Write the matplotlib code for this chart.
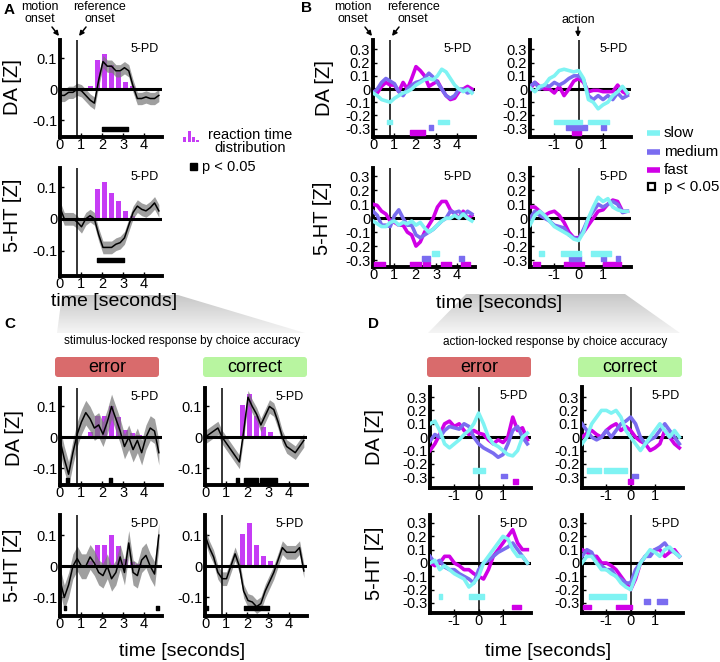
import numpy as np
import matplotlib.pyplot as plt
from matplotlib.patches import Polygon, Rectangle, FancyBboxPatch

plt.rcParams['font.family'] = ['Liberation Sans', 'DejaVu Sans']
plt.rcParams['axes.unicode_minus'] = False

W, H = 720, 662

# ---------------- data ----------------
t_stim = np.linspace(0, 4.7, 24)
t_act = np.linspace(-2.0, 2.0, 21)
rt_bins = [1.45, 1.78, 2.11, 2.44, 2.77, 3.1, 3.43, 3.76]

# panel A
a_rt = [0.01, 0.095, 0.115, 0.08, 0.055, 0.025, 0.01, 0.0]
a_da = [-0.02, -0.02, -0.01, -0.01, 0.0, -0.005, -0.02, -0.035, -0.045, 0.03, 0.09, 0.075,
        0.075, 0.06, 0.06, 0.07, 0.06, 0.01, -0.03, -0.03, -0.025, -0.03, -0.03, -0.02]
a_ht = [0.035, 0.0, 0.0, 0.0, -0.01, -0.025, 0.0, 0.01, 0.0, -0.05, -0.09, -0.09,
        -0.09, -0.08, -0.075, -0.06, -0.02, 0.02, 0.04, 0.03, 0.025, 0.035, 0.05, 0.025]
a_da_sem = 0.02
a_ht_sem = 0.02
a_da_sig = [(2.0, 3.25)]
a_ht_sig = [(1.75, 3.05)]

# panel B, stimulus locked
b_da_slow = [-0.03, -0.05, -0.08, -0.09, -0.1, -0.07, -0.05, -0.03, -0.02, 0.0, 0.03, 0.05,
             0.07, 0.08, 0.07, 0.1, 0.15, 0.13, 0.08, 0.03, 0.0, -0.02, 0.0, -0.03]
b_da_med = [-0.03, 0.0, 0.05, 0.08, 0.06, 0.04, -0.02, -0.05, 0.0, 0.03, 0.05, 0.06,
            0.08, 0.12, 0.09, 0.05, 0.0, -0.05, -0.07, -0.05, 0.0, 0.0, -0.03, -0.02]
b_da_fast = [-0.02, -0.03, 0.02, 0.05, 0.03, 0.03, -0.02, 0.05, 0.0, 0.08, 0.17, 0.14,
             0.1, 0.02, 0.04, 0.06, 0.0, -0.05, -0.08, -0.07, -0.02, 0.0, 0.02, 0.0]
b_ht_slow = [-0.02, -0.04, -0.06, -0.06, -0.03, -0.02, -0.05, -0.03, -0.04, -0.02, -0.05, -0.03,
             -0.07, -0.1, -0.08, -0.05, -0.02, 0.0, 0.0, 0.02, 0.0, 0.03, 0.0, -0.02]
b_ht_med = [0.05, 0.02, -0.05, -0.05, -0.06, 0.02, 0.06, 0.0, -0.05, -0.05, -0.12, -0.14,
            -0.12, -0.1, -0.08, -0.05, -0.02, 0.0, 0.05, 0.04, 0.05, 0.02, 0.05, 0.03]
b_ht_fast = [0.1, 0.09, 0.05, 0.03, -0.02, -0.03, -0.05, -0.05, -0.1, -0.12, -0.2, -0.17,
             -0.1, -0.05, 0.0, 0.08, 0.12, 0.12, 0.06, 0.03, 0.0, 0.05, 0.0, 0.02]
b_da_sig = {'slow': [(0.65, 0.89), (3.11, 3.59)], 'med': [(2.68, 2.87)], 'fast': [(1.76, 2.48)]}
b_ht_sig = {'slow': [(2.8, 3.15)], 'med': [(2.32, 2.71), (4.1, 4.35)],
            'fast': [(0.05, 0.55), (1.76, 2.3), (2.4, 2.7), (3.22, 3.7), (4.2, 4.6)]}

# panel B, action locked
ba_da_slow = [0.01, -0.02, 0.02, 0.03, 0.08, 0.1, 0.14, 0.15, 0.14, 0.13, 0.14,
              0.08, -0.08, -0.1, -0.15, -0.12, -0.1, -0.05, -0.02, 0.02, -0.03]
ba_da_med = [0.02, 0.05, 0.0, 0.03, 0.02, 0.05, 0.03, 0.05, 0.08, 0.1, 0.1,
             0.07, -0.05, -0.08, -0.05, -0.08, -0.05, -0.08, -0.03, -0.07, -0.05]
ba_da_fast = [0.0, 0.05, 0.02, 0.0, 0.0, -0.03, 0.02, -0.05, 0.0, 0.06, 0.08,
              0.05, -0.02, -0.01, -0.01, -0.02, -0.02, -0.02, 0.03, -0.02, -0.04]
ba_ht_slow = [-0.05, 0.02, 0.05, 0.02, -0.02, -0.06, -0.08, -0.1, -0.12, -0.15, -0.16,
              -0.1, 0.0, 0.08, 0.15, 0.12, 0.14, 0.08, 0.06, 0.05, 0.05]
ba_ht_med = [0.0, 0.05, 0.02, 0.0, -0.02, -0.05, -0.06, -0.07, -0.12, -0.14, -0.15,
             -0.08, 0.0, 0.05, 0.1, 0.08, 0.1, 0.12, 0.1, 0.04, 0.05]
ba_ht_fast = [0.08, 0.08, 0.05, 0.02, 0.04, 0.05, 0.02, -0.03, -0.1, -0.14, -0.14,
              -0.1, -0.05, 0.0, 0.05, 0.06, 0.1, 0.13, 0.12, 0.05, 0.05]
ba_da_sig = {'slow': [(-1.0, 0.12), (0.4, 1.26)], 'med': [(-0.52, 0.34), (0.92, 1.12)],
             'fast': [(-0.29, 0.09)]}
ba_ht_sig = {'slow': [(-1.62, -1.42), (-0.73, 0.09), (0.5, 1.33)],
             'med': [(-0.38, 0.09), (0.92, 1.12), (1.53, 1.71)],
             'fast': [(-1.89, -1.58), (-0.59, 0.23), (0.99, 1.74)]}

# panel C
c_err_rt = [0.016, 0.07, 0.068, 0.1, 0.066, 0.022, 0.014, 0.008]
c_cor_rt = [0.005, 0.105, 0.14, 0.07, 0.033, 0.017, 0.003, 0.0]
c_err_da = [-0.01, -0.07, -0.12, -0.05, 0.01, 0.05, 0.08, 0.06, 0.03, 0.04, 0.01, 0.05,
            0.1, 0.06, 0.02, -0.03, 0.0, -0.04, -0.01, -0.05, 0.0, 0.03, 0.02, -0.05]
c_err_ht = [-0.045, -0.1, -0.06, 0.0, 0.025, 0.0, 0.0, 0.03, 0.01, -0.02, -0.03, 0.0,
            -0.04, -0.02, 0.03, -0.02, 0.075, -0.02, -0.03, 0.02, 0.035, 0.0, -0.025, 0.1]
c_cor_da = [0.0, 0.01, 0.02, 0.03, 0.0, -0.02, -0.04, -0.06, -0.08, 0.02, 0.13, 0.1,
            0.075, 0.04, 0.07, 0.1, 0.09, 0.05, 0.0, -0.03, -0.04, -0.05, -0.03, -0.01]
c_cor_ht = [0.1, 0.06, 0.03, -0.02, -0.04, -0.04, 0.0, 0.04, 0.0, -0.08, -0.11, -0.115,
            -0.13, -0.12, -0.08, -0.05, -0.02, 0.02, 0.06, 0.045, 0.045, 0.045, 0.06, -0.015]
c_err_sem = 0.04
c_cor_sem = 0.022
c_err_da_sig = [(0.3, 0.42), (2.33, 2.45)]
c_err_ht_sig = [(0.18, 0.3), (4.55, 4.7)]
c_cor_da_sig = [(1.48, 1.62), (1.85, 2.5), (2.6, 3.4)]
c_cor_ht_sig = [(0.0, 0.12), (1.85, 3.05)]

# panel D
d_err_da_slow = [0.1, 0.12, 0.05, -0.05, -0.08, -0.05, -0.02, 0.02, 0.05, 0.1, 0.18,
                 0.1, 0.0, -0.05, -0.07, -0.1, -0.13, -0.14, -0.1, 0.0, 0.03]
d_err_da_med = [-0.03, 0.02, 0.0, 0.05, 0.08, 0.07, 0.06, 0.1, 0.08, 0.0, -0.05,
                -0.08, -0.1, -0.12, -0.15, -0.13, -0.05, 0.05, 0.08, 0.0, -0.05]
d_err_da_fast = [-0.1, -0.05, 0.02, 0.1, 0.12, 0.08, 0.1, 0.05, 0.02, 0.05, 0.03,
                 0.02, -0.02, -0.05, -0.02, -0.04, 0.0, 0.15, 0.05, 0.07, -0.02]
d_err_ht_slow = [0.0, 0.02, -0.05, -0.02, -0.05, -0.08, -0.1, -0.12, -0.18, -0.15, -0.1,
                 0.0, 0.05, 0.1, 0.15, 0.2, 0.18, 0.1, 0.05, 0.05, 0.0]
d_err_ht_med = [0.05, 0.0, 0.02, -0.03, -0.05, -0.05, -0.08, -0.1, -0.12, -0.15, -0.05,
                0.0, 0.02, 0.05, 0.08, 0.1, 0.12, 0.15, 0.1, 0.05, 0.0]
d_err_ht_fast = [0.0, -0.02, 0.0, 0.05, 0.05, 0.0, -0.02, -0.05, -0.05, -0.08, -0.1,
                 -0.12, -0.05, 0.05, 0.1, 0.15, 0.2, 0.25, 0.15, 0.1, 0.1]
d_cor_da_slow = [-0.05, 0.0, 0.1, 0.15, 0.2, 0.2, 0.18, 0.2, 0.15, 0.05, 0.0,
                 -0.05, -0.1, -0.05, 0.0, 0.05, 0.1, 0.05, 0.0, 0.05, 0.0]
d_cor_da_med = [0.1, 0.05, 0.0, -0.02, 0.0, 0.05, 0.0, 0.05, 0.1, 0.12, 0.15,
                0.1, 0.0, -0.05, -0.02, 0.0, 0.05, 0.1, 0.05, 0.0, -0.05]
d_cor_da_fast = [0.0, 0.03, 0.05, 0.02, 0.0, 0.05, 0.08, 0.1, 0.05, 0.08, 0.05,
                 0.0, -0.03, -0.05, -0.1, -0.08, -0.05, 0.05, 0.0, -0.05, -0.08]
d_cor_ht_slow = [0.0, 0.05, 0.05, 0.0, -0.05, -0.05, -0.08, -0.1, -0.15, -0.18, -0.2,
                 -0.1, 0.0, 0.05, 0.1, 0.08, 0.05, 0.1, 0.12, 0.08, 0.05]
d_cor_ht_med = [0.05, 0.1, 0.08, 0.0, -0.02, -0.05, -0.05, -0.1, -0.12, -0.15, -0.15,
                -0.05, 0.0, 0.05, 0.05, 0.1, 0.12, 0.15, 0.1, 0.08, 0.05]
d_cor_ht_fast = [0.1, 0.08, 0.05, 0.05, 0.0, 0.0, -0.02, -0.05, -0.1, -0.15, -0.2,
                 -0.12, 0.0, 0.05, 0.08, 0.1, 0.1, 0.05, 0.08, 0.1, 0.05]
d_err_da_sig = {'slow': [(-0.23, 0.25)], 'med': [(0.93, 1.15)], 'fast': [(1.4, 1.6)]}
d_err_ht_sig = {'slow': [(-1.65, -1.5), (-0.4, 0.2)], 'med': [], 'fast': [(1.35, 1.75)]}
d_cor_da_sig = {'slow': [(-1.8, -1.2), (-1.1, -0.15)], 'med': [(0.05, 0.3)], 'fast': [(-0.1, 0.1)]}
d_cor_ht_sig = {'slow': [(-1.7, -0.2)], 'med': [(0.55, 0.8), (1.1, 1.5)],
                'fast': [(-1.95, -1.65), (-0.6, 0.05)]}

# ---------------- style ----------------
purple = '#c63cf5'
col = {'slow': '#7ff3f3', 'med': '#7a6cf0', 'fast': '#d000e6'}
sig_row = {'slow': -0.25, 'med': -0.29, 'fast': -0.33}

fig = plt.figure(figsize=(W / 100, H / 100), dpi=100)

bg = fig.add_axes([0, 0, 1, 1], zorder=-1)
for poly in [[(62, 295), (178, 295), (305, 333), (57, 333)],
             [(466, 294), (625, 294), (680, 333), (428, 333)]]:
    p = Polygon(poly, closed=True, facecolor='none', edgecolor='none')
    bg.add_patch(p)
    xs, ys = zip(*poly)
    grad = np.linspace(0.78, 0.96, 60).reshape(-1, 1)
    im = bg.imshow(grad, cmap='gray', vmin=0, vmax=1, aspect='auto',
                   extent=(min(xs), max(xs), max(ys), min(ys)))
    im.set_clip_path(p)
bg.set_xlim(0, W)
bg.set_ylim(H, 0)
bg.axis('off')


def make_ax(l, t, r, b, xlim, ylim):
    ax = fig.add_axes([l / W, 1 - b / H, (r - l) / W, (b - t) / H])
    ax.set_xlim(*xlim)
    ax.set_ylim(*ylim)
    ax.patch.set_alpha(0)
    for s in ['top', 'right']:
        ax.spines[s].set_visible(False)
    for s in ['left', 'bottom']:
        ax.spines[s].set_linewidth(2.8)
    ax.tick_params(direction='in', length=3, width=1, labelsize=10.5, pad=2)
    ax.tick_params(axis='x', pad=0.5)
    ax.axhline(0, color='k', lw=2.2, zorder=3)
    ax.text(0.97, 0.97, '5-PD', transform=ax.transAxes, ha='right', va='top', fontsize=9)
    return ax


def stim_panel(box, ylim, mean, sem, rt, sig, sig_y):
    ax = make_ax(*box, (0, 4.85), ylim)
    mean = np.array(mean)
    ax.bar(rt_bins, rt, width=0.25, color=purple, zorder=1)
    ax.fill_between(t_stim, mean - sem, mean + sem, color='#777777', alpha=0.7, lw=0, zorder=2)
    ax.plot(t_stim, mean, color='k', lw=1.1, zorder=4)
    ax.axvline(0.83, color='k', lw=1.1, zorder=4)
    ax.broken_barh([(a, b - a) for a, b in sig], (sig_y - 0.007, 0.014), color='k', zorder=5)
    ax.set_xticks([0, 1, 2, 3, 4])
    ax.set_yticks([-0.1, 0, 0.1])
    ax.set_yticklabels(['-0.1', '0', '0.1'])
    return ax


def rt_panel(box, ylim, t, slow, med, fast, sig, action):
    if action:
        ax = make_ax(*box, (-2.0, 2.15), ylim)
        ax.axvline(0, color='k', lw=1.1, zorder=4)
        ax.set_xticks([-1, 0, 1])
    else:
        ax = make_ax(*box, (0, 4.85), ylim)
        ax.axvline(0.83, color='k', lw=1.1, zorder=4)
        ax.set_xticks([0, 1, 2, 3, 4])
    for key, vals in [('fast', fast), ('med', med), ('slow', slow)]:
        ax.plot(t, vals, color=col[key], lw=2.6, zorder=5)
        ax.broken_barh([(a, b - a) for a, b in sig[key]], (sig_row[key] - 0.018, 0.036),
                       color=col[key], zorder=5)
    ax.set_yticks([-0.3, -0.2, -0.1, 0, 0.1, 0.2, 0.3])
    ax.set_yticklabels(['-0.3', '-0.2', '-0.1', '0', '0.1', '0.2', '0.3'])
    return ax


# panel A
stim_panel((60, 40, 162, 137), (-0.155, 0.16), a_da, a_da_sem, a_rt, a_da_sig, -0.13)
stim_panel((60, 168, 162, 276), (-0.18, 0.16), a_ht, a_ht_sem, a_rt, a_ht_sig, -0.13)

# panel B
rt_panel((373, 40, 475, 137), (-0.364, 0.372), t_stim, b_da_slow, b_da_med, b_da_fast, b_da_sig, False)
rt_panel((373, 168, 475, 267), (-0.35, 0.36), t_stim, b_ht_slow, b_ht_med, b_ht_fast, b_ht_sig, False)
rt_panel((530, 40, 631, 137), (-0.364, 0.372), t_act, ba_da_slow, ba_da_med, ba_da_fast, ba_da_sig, True)
rt_panel((530, 168, 631, 267), (-0.35, 0.36), t_act, ba_ht_slow, ba_ht_med, ba_ht_fast, ba_ht_sig, True)

# panel C
stim_panel((60, 388, 162, 485), (-0.155, 0.16), c_err_da, c_err_sem, c_err_rt, c_err_da_sig, -0.14)
stim_panel((60, 515, 162, 616), (-0.16, 0.165), c_err_ht, c_err_sem, c_err_rt, c_err_ht_sig, -0.135)
stim_panel((205, 388, 307, 485), (-0.155, 0.16), c_cor_da, c_cor_sem, c_cor_rt, c_cor_da_sig, -0.14)
stim_panel((205, 515, 307, 616), (-0.16, 0.165), c_cor_ht, c_cor_sem, c_cor_rt, c_cor_ht_sig, -0.135)

# panel D
rt_panel((430, 387, 531, 488), (-0.38, 0.375), t_act, d_err_da_slow, d_err_da_med, d_err_da_fast, d_err_da_sig, True)
rt_panel((430, 515, 531, 613), (-0.375, 0.36), t_act, d_err_ht_slow, d_err_ht_med, d_err_ht_fast, d_err_ht_sig, True)
rt_panel((582, 387, 683, 488), (-0.38, 0.375), t_act, d_cor_da_slow, d_cor_da_med, d_cor_da_fast, d_cor_da_sig, True)
rt_panel((582, 515, 683, 613), (-0.375, 0.36), t_act, d_cor_ht_slow, d_cor_ht_med, d_cor_ht_fast, d_cor_ht_sig, True)

# ---------------- annotations (pixel coordinates) ----------------
fg = fig.add_axes([0, 0, 1, 1], zorder=10)
fg.set_xlim(0, W)
fg.set_ylim(H, 0)
fg.axis('off')

for s, x, y in [('A', 4, 10), ('B', 301, 8), ('C', 4, 324), ('D', 368, 324)]:
    fg.text(x, y, s, fontsize=11, fontweight='bold', va='center')

arrow = dict(arrowstyle='-|>', color='k', lw=1.1, mutation_scale=7, shrinkA=0, shrinkB=0)
for dx in [0, 313]:
    fg.text(40 + dx, 13, 'motion\nonset', ha='center', va='center', fontsize=9, linespacing=0.95)
    fg.text(100 + dx, 13, 'reference\nonset', ha='center', va='center', fontsize=9, linespacing=0.95)
    fg.annotate('', xy=(59 + dx, 36), xytext=(52 + dx, 27), arrowprops=arrow)
    fg.annotate('', xy=(79 + dx, 36), xytext=(86 + dx, 27), arrowprops=arrow)
fg.text(578, 20, 'action', ha='center', va='center', fontsize=9)
fg.annotate('', xy=(578, 37), xytext=(578, 27), arrowprops=arrow)

for x, y, s in [(12, 87, 'DA [Z]'), (12, 215, '5-HT [Z]'), (324, 88, 'DA [Z]'), (323, 218, '5-HT [Z]'),
                (14, 438, 'DA [Z]'), (13, 565, '5-HT [Z]'), (375, 437, 'DA [Z]'), (375, 563, '5-HT [Z]')]:
    fg.text(x, y, s, rotation=90, ha='center', va='center', fontsize=14.5)

for x, y in [(114, 302), (499, 303), (182, 651), (548, 651)]:
    fg.text(x, y, 'time [seconds]', ha='center', va='center', fontsize=14)

fg.text(182, 341, 'stimulus-locked response by choice accuracy', ha='center', va='center', fontsize=8.5)
fg.text(555, 342, 'action-locked response by choice accuracy', ha='center', va='center', fontsize=8.5)

for x0, label, fc in [(55, 'error', '#d96b6c'), (203, 'correct', '#b8f5a0'),
                      (427, 'error', '#d96b6c'), (578, 'correct', '#b8f5a0')]:
    fg.add_patch(FancyBboxPatch((x0, 357), 104, 20, boxstyle='round,pad=0,rounding_size=3',
                                facecolor=fc, edgecolor='none'))
    fg.text(x0 + 52, 367, label, ha='center', va='center', fontsize=13)

# legend A
for x0, h in [(183, 5), (187.5, 11.5), (192, 5.5), (196, 2.5)]:
    fg.add_patch(Rectangle((x0, 142 - h), 3, h, color=purple, lw=0))
fg.text(250, 135, 'reaction time', ha='center', va='center', fontsize=10.5)
fg.text(250, 148, 'distribution', ha='center', va='center', fontsize=10.5)
fg.add_patch(Rectangle((190, 163), 7, 7, color='k'))
fg.text(202, 166.5, 'p < 0.05', ha='left', va='center', fontsize=10.5)

# legend B
for y, key, s in [(133, 'slow', 'slow'), (152, 'med', 'medium'), (170, 'fast', 'fast')]:
    fg.plot([647, 660], [y, y], color=col[key], lw=4, solid_capstyle='butt')
    fg.text(664, y, s, ha='left', va='center', fontsize=11)
fg.add_patch(Rectangle((648, 183), 7, 7, facecolor='white', edgecolor='k', lw=1.6))
fg.text(664, 187, 'p < 0.05', ha='left', va='center', fontsize=11)

fig.savefig('out.png', dpi=100)
